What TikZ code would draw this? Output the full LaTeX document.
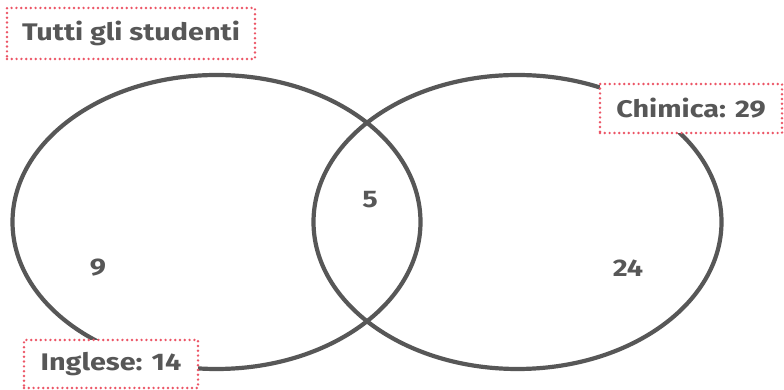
\documentclass[tikz,border=0pt]{standalone}
\usepackage{fontspec}
\setmainfont[FakeStretch=1.2]{Fira Sans}
\usepackage{xcolor}
\definecolor{inkgrey}{HTML}{575757}
\definecolor{dotred}{HTML}{EC5566}
\tikzset{
setline/.style={draw=inkgrey,line width=4.2pt},
tag/.style={
  draw=dotred,
  line width=2.7pt,
  line cap=round,
  dash pattern=on 0pt off 4.8pt,
  fill=white,
  text=inkgrey,
  font=\fontsize{24}{28}\selectfont\bfseries,
  inner sep=0pt,
  align=center
},
count/.style={text=inkgrey,font=\fontsize{24}{28}\selectfont\bfseries,inner sep=0pt},
}

\begin{document}
\begin{tikzpicture}[x=1pt,y=1pt]
\useasboundingbox (0,0) rectangle (784,390);
% the two sets
\draw[setline] (216.5,168) ellipse [x radius=204, y radius=147];
\draw[setline] (517.5,168) ellipse [x radius=204, y radius=147];
% the counts
\node[count] (onlyeng) at (98,122) {9};
\node[count] (both)    at (370,190) {5};
\node[count] (onlychem) at (628,122) {24};
% the labels
\node[tag,minimum width=248pt,minimum height=51pt] (all)  at (131,356.5) {Tutti gli studenti};
\node[tag,minimum width=182pt,minimum height=49pt] (chem) at (691,281.5) {Chimica: 29};
\node[tag,minimum width=174pt,minimum height=48pt] (eng)  at (111,26) {Inglese: 14};
\end{tikzpicture}
\end{document}
